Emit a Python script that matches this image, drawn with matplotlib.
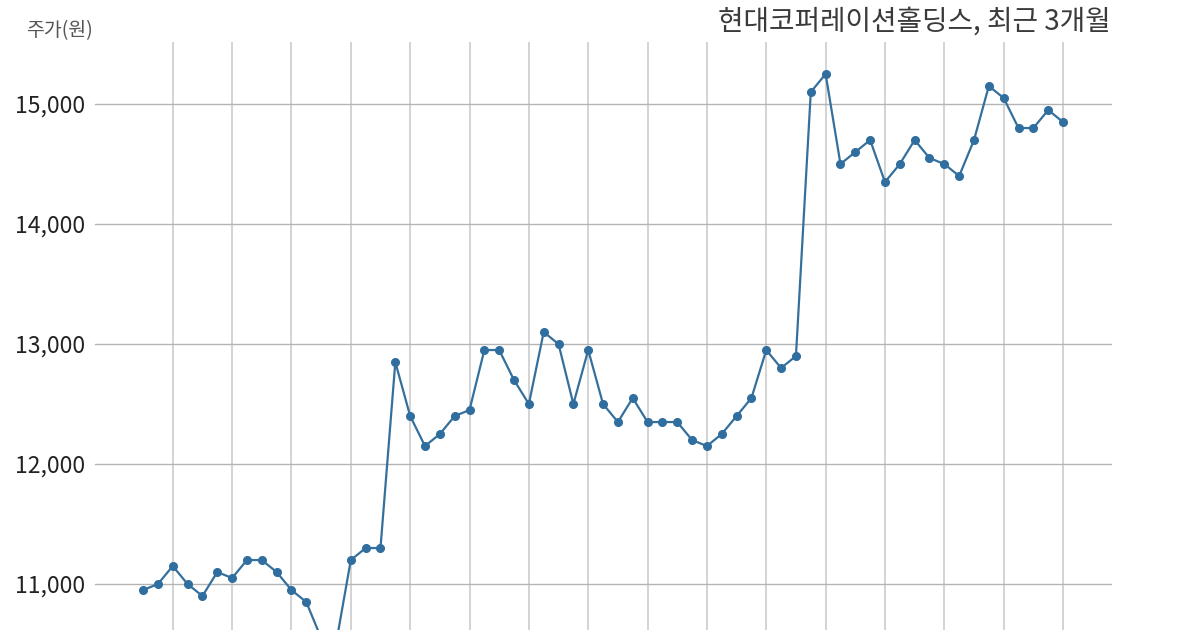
import matplotlib
matplotlib.use("Agg")
import matplotlib.pyplot as plt
from matplotlib.ticker import FuncFormatter

plt.rcParams["font.family"] = ["Noto Sans CJK KR", "DejaVu Sans"]

TITLE = "현대코퍼레이션홀딩스, 최근 3개월"
Y_LABEL = "주가(원)"

# daily closing prices (KRW)
prices = [
    10950, 11000, 11150, 11000, 10900, 11100, 11050, 11200, 11200, 11100,
    10950, 10850, 10550, 10500, 11200, 11300, 11300, 12850, 12400, 12150,
    12250, 12400, 12450, 12950, 12950, 12700, 12500, 13100, 13000, 12500,
    12950, 12500, 12350, 12550, 12350, 12350, 12350, 12200, 12150, 12250,
    12400, 12550, 12950, 12800, 12900, 15100, 15250, 14500, 14600, 14700,
    14350, 14500, 14700, 14550, 14500, 14400, 14700, 15150, 15050, 14800,
    14800, 14950, 14850,
]
y_ticks = [11000, 12000, 13000, 14000, 15000]
days = list(range(len(prices)))
grid_days = days[2::4]

fig = plt.figure(figsize=(12, 6.3), dpi=100)
ax = fig.add_axes([95 / 1200, 0, 1017 / 1200, 588 / 630])

ax.plot(days, prices, color="#35709c", lw=1.6, marker="o", ms=5.5,
        markerfacecolor="#2f6e9e", markeredgecolor="#2f6e9e", zorder=3)

ax.set_xlim(-3.24, 65.3)
ax.set_ylim(10617, 15517)
ax.set_yticks(y_ticks)
ax.yaxis.set_major_formatter(FuncFormatter(lambda v, _: f"{int(v):,}"))
ax.set_xticks(grid_days)
ax.tick_params(axis="both", length=0)
ax.tick_params(axis="y", labelsize=16.5, colors="#222222", pad=7)
ax.tick_params(axis="x", labelbottom=False)

ax.grid(axis="y", color="#b4b4b4", lw=1.0)
ax.grid(axis="x", color="#d0d0d0", lw=1.3)
for side in ax.spines.values():
    side.set_visible(False)

fig.text(26 / 1200, 1 - 31 / 630, Y_LABEL, fontsize=14, color="#555555",
         ha="left", va="center")
fig.text(1111 / 1200, 1 - 22 / 630, TITLE, fontsize=20, color="#3a3a3a",
         ha="right", va="center")

fig.savefig("out.png", dpi=100, facecolor="white")
